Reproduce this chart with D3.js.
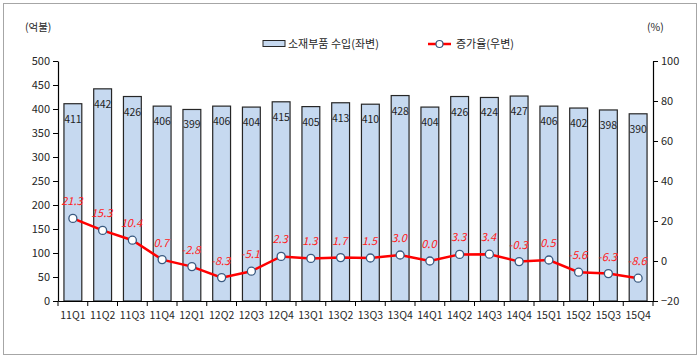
<!DOCTYPE html>
<html><head><meta charset="utf-8">
<script src="https://cdn.jsdelivr.net/npm/d3@7"></script>
<style>body{margin:0;background:#fff}svg{display:block}text{font-family:"Noto Sans CJK KR","Liberation Sans",sans-serif}</style>
</head><body><svg id="c" width="700" height="358"></svg>
<script>
const categories = ["11Q1","11Q2","11Q3","11Q4","12Q1","12Q2","12Q3","12Q4","13Q1","13Q2","13Q3","13Q4","14Q1","14Q2","14Q3","14Q4","15Q1","15Q2","15Q3","15Q4"];
const imports = [411,442,426,406,399,406,404,415,405,413,410,428,404,426,424,427,406,402,398,390];
const growth = [21.3,15.3,10.4,0.7,-2.8,-8.3,-5.1,2.3,1.3,1.7,1.5,3.0,0.0,3.3,3.4,-0.3,0.5,-5.6,-6.3,-8.6];
const leftTicks = [0,50,100,150,200,250,300,350,400,450,500];
const rightTicks = [-20,0,20,40,60,80,100];
const seriesNames = ["소재부품 수입(좌변)","증가율(우변)"];
const unitLeft = "(억불)", unitRight = "(%)";

const svg = d3.select("#c");
const L = 58, R = 653, T = 61, B = 301;
svg.append("rect").attr("x",3.5).attr("y",3.5).attr("width",693).attr("height",351).attr("fill","#fff").attr("stroke","#a6a6a6").attr("stroke-width",1);

const x = d3.scaleBand().domain(categories).range([L,R]).paddingInner(0.4).paddingOuter(0.2);
const yL = d3.scaleLinear().domain([0,500]).range([B,T]);
const yR = d3.scaleLinear().domain([-20,100]).range([B,T]);

// bars
svg.append("g").selectAll("rect").data(imports).join("rect")
  .attr("x",(d,i)=>x(categories[i])).attr("y",d=>yL(d))
  .attr("width",x.bandwidth()).attr("height",d=>B-yL(d))
  .attr("fill","#c6d9f0").attr("stroke","#262626").attr("stroke-width",1.2);
svg.append("g").selectAll("text").data(imports).join("text")
  .attr("x",(d,i)=>x(categories[i])+x.bandwidth()/2).attr("y",d=>yL(d)+19)
  .attr("text-anchor","middle").attr("font-size",10.5).attr("fill","#1f1f1f").text(d=>d);

// axes
const axL = svg.append("g").attr("transform",`translate(${L},0)`).call(d3.axisLeft(yL).tickValues(leftTicks).tickSize(5).tickSizeOuter(0));
const axR = svg.append("g").attr("transform",`translate(${R},0)`).call(d3.axisRight(yR).tickValues(rightTicks).tickSize(5).tickSizeOuter(0));
const step = (R-L)/categories.length;
const axB = svg.append("g").attr("transform",`translate(0,${B})`).call(d3.axisBottom(x).tickSize(0).tickPadding(11));
axB.selectAll("g.tick text").attr("font-size",10.5);
axB.append("g").selectAll("line").data(d3.range(categories.length+1)).join("line")
  .attr("x1",i=>L+i*step).attr("x2",i=>L+i*step).attr("y1",0).attr("y2",5).attr("stroke","#000");
[axL,axR,axB].forEach(a=>{a.select(".domain").attr("stroke","#000").attr("stroke-width",1.2);
  a.selectAll("text").attr("fill","#262626").attr("font-size",11).style("font-family",'"Noto Sans CJK KR",sans-serif');
  a.selectAll(".tick line").attr("stroke","#000");});
axB.selectAll("text").attr("font-size",10.5);

// line
const cx = i => x(categories[i])+x.bandwidth()/2;
const line = d3.line().x((d,i)=>cx(i)).y(d=>yR(d));
svg.append("path").datum(growth).attr("d",line).attr("fill","none").attr("stroke","#ff0000").attr("stroke-width",2.5);
svg.append("g").selectAll("circle").data(growth).join("circle")
  .attr("cx",(d,i)=>cx(i)).attr("cy",d=>yR(d)).attr("r",4)
  .attr("fill","#fff").attr("stroke","#3a5a80").attr("stroke-width",1.3);
svg.append("g").selectAll("text").data(growth).join("text")
  .attr("x",(d,i)=>cx(i)-1).attr("y",d=>yR(d)-13)
  .attr("text-anchor","middle").attr("font-size",11).attr("font-style","italic").attr("fill","#ff2020")
  .text(d=>d.toFixed(1));

// units
svg.append("text").attr("x",25).attr("y",31).attr("font-size",10.5).attr("fill","#262626").text(unitLeft);
svg.append("text").attr("x",647).attr("y",31).attr("font-size",10.5).attr("fill","#262626").text(unitRight);

// legend
const lg = svg.append("g");
lg.append("rect").attr("x",263).attr("y",40.5).attr("width",22).attr("height",6).attr("fill","#c6d9f0").attr("stroke","#262626").attr("stroke-width",1);
lg.append("text").attr("x",288).attr("y",48).attr("font-size",11).attr("fill","#1f1f1f").text(seriesNames[0]);
lg.append("line").attr("x1",428).attr("x2",451).attr("y1",44).attr("y2",44).attr("stroke","#ff0000").attr("stroke-width",2.5);
lg.append("circle").attr("cx",439.5).attr("cy",44).attr("r",3.5).attr("fill","#fff").attr("stroke","#3a5a80").attr("stroke-width",1.2);
lg.append("text").attr("x",456).attr("y",48).attr("font-size",11).attr("fill","#1f1f1f").text(seriesNames[1]);
</script></body></html>
